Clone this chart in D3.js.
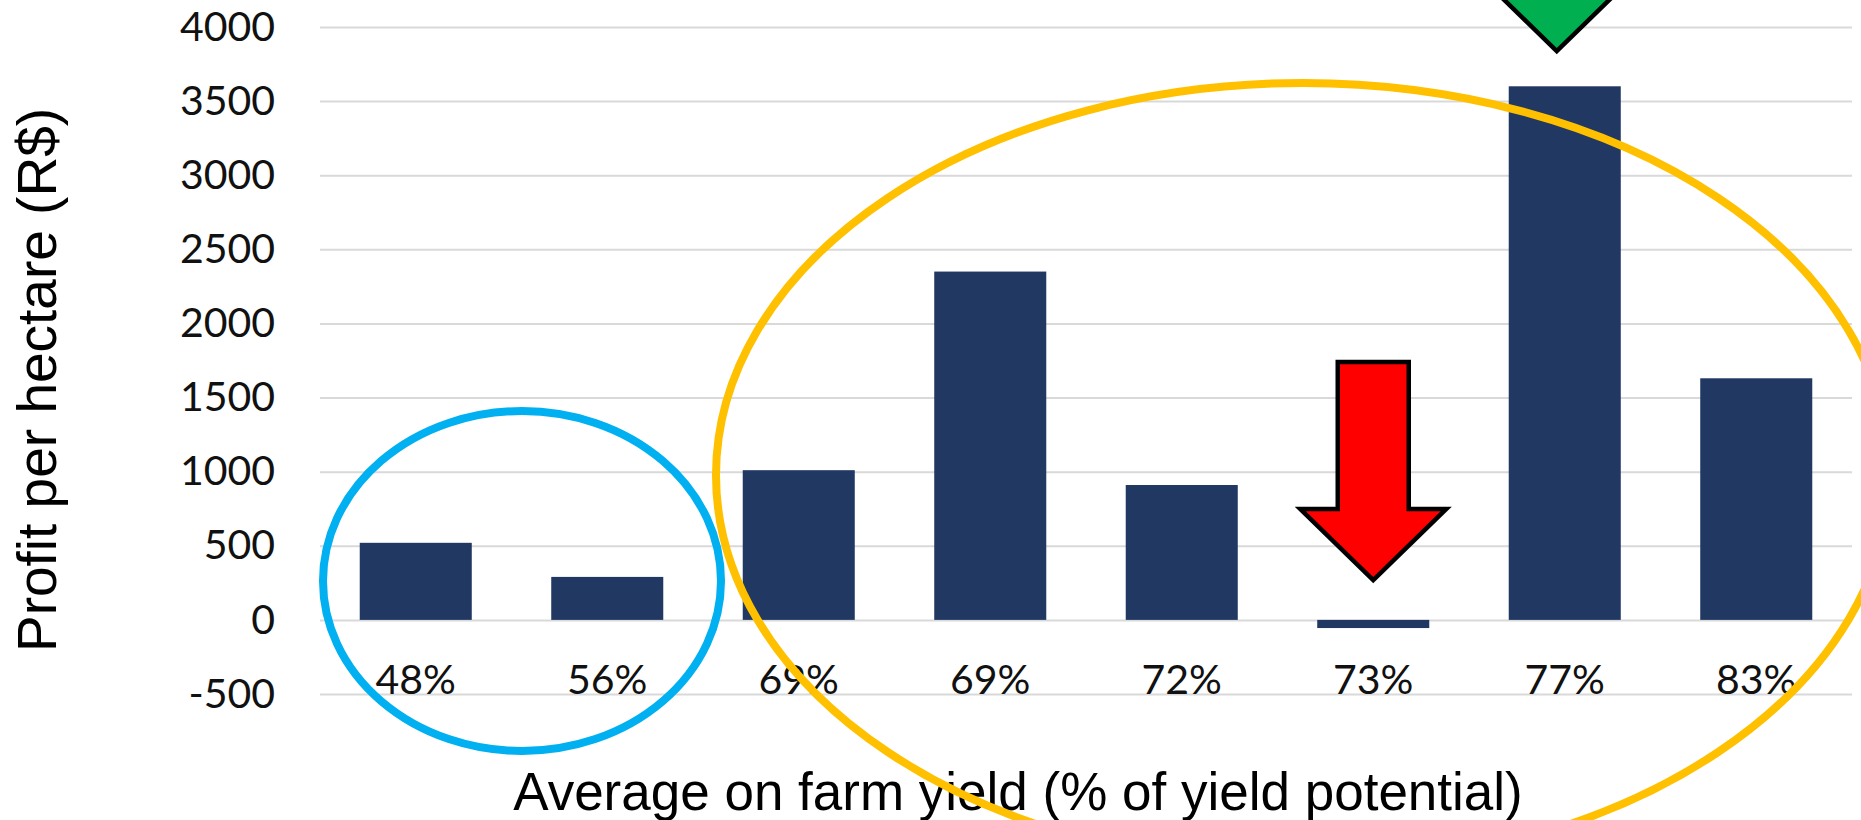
<!DOCTYPE html>
<html>
<head>
<meta charset="utf-8">
<script src="https://cdn.jsdelivr.net/npm/d3@7"></script>
<style>
  html, body { margin: 0; padding: 0; background: #ffffff; }
  svg { display: block; }
</style>
</head>
<body>
<svg id="chart" width="1861" height="820"></svg>
<script>
// Average on-farm yield class (share of yield potential) and profit per hectare
const categories = ["48%", "56%", "69%", "69%", "72%", "73%", "77%", "83%"];
const profits = [520, 290, 1010, 2350, 910, -55, 3600, 1630];
const yTicks = [-500, 0, 500, 1000, 1500, 2000, 2500, 3000, 3500, 4000];

const svg = d3.select("#chart");
const plot = { left: 320, right: 1852, top: 27, bottom: 694 };

const x = d3.scaleBand()
  .domain(d3.range(categories.length))
  .range([plot.left, plot.right])
  .paddingInner(0.415)
  .paddingOuter(0.2075);

const y = d3.scaleLinear()
  .domain([-500, 4000])
  .range([plot.bottom, plot.top]);

const tickFont = "Lato, 'Open Sans', sans-serif";
const titleFont = "'Liberation Sans', Arial, sans-serif";

// horizontal gridlines
const grid = svg.append("g")
  .attr("transform", `translate(${plot.left},0)`)
  .call(d3.axisRight(y).tickValues(yTicks).tickSize(plot.right - plot.left).tickFormat(""));
grid.select(".domain").remove();
grid.selectAll("line").attr("stroke", "#D9D9D9").attr("stroke-width", 2);

// value axis labels (plain integers, hyphen for negatives)
const yAxis = svg.append("g")
  .attr("transform", `translate(${plot.left},0)`)
  .call(d3.axisLeft(y).tickValues(yTicks).tickSize(0).tickPadding(45)
    .tickFormat(d => String(d)));
yAxis.select(".domain").remove();
yAxis.selectAll("text")
  .attr("font-family", tickFont)
  .attr("font-size", 41)
  .attr("fill", "#111");

// bars
svg.append("g")
  .selectAll("rect")
  .data(profits)
  .join("rect")
  .attr("x", (d, i) => x(i))
  .attr("width", x.bandwidth())
  .attr("y", d => y(Math.max(0, d)))
  .attr("height", d => Math.abs(y(d) - y(0)))
  .attr("fill", "#213862");

// category labels along the bottom gridline
const xAxis = svg.append("g")
  .attr("transform", `translate(0,${y(-500)})`)
  .call(d3.axisBottom(x).tickSize(0).tickFormat(i => categories[i]));
xAxis.select(".domain").remove();
xAxis.selectAll("text")
  .attr("y", 0)
  .attr("dy", 0)
  .attr("font-family", tickFont)
  .attr("font-size", 41)
  .attr("fill", "#111");

// axis titles
svg.append("text")
  .attr("x", 1018)
  .attr("y", 810)
  .attr("text-anchor", "middle")
  .attr("font-family", titleFont)
  .attr("font-size", 53)
  .attr("fill", "#000")
  .text("Average on farm yield (% of yield potential)");

svg.append("text")
  .attr("transform", "translate(56,380) rotate(-90)")
  .attr("text-anchor", "middle")
  .attr("font-family", titleFont)
  .attr("font-size", 55)
  .attr("fill", "#000")
  .text("Profit per hectare (R$)");

// group outlines
svg.append("ellipse")
  .attr("cx", 522).attr("cy", 581)
  .attr("rx", 199).attr("ry", 170)
  .attr("fill", "none")
  .attr("stroke", "#00B0F0")
  .attr("stroke-width", 8);

svg.append("ellipse")
  .attr("cx", 1303).attr("cy", 475)
  .attr("rx", 587).attr("ry", 392)
  .attr("fill", "none")
  .attr("stroke", "#FFC000")
  .attr("stroke-width", 8);

// block arrow pointing down: tip at (cx, tipY)
function downArrow(cx, tipY, shaftTop, fill) {
  const headH = 71, headHalf = 73, shaftHalf = 35.5;
  const baseY = tipY - headH;
  const pts = [
    [cx - shaftHalf, shaftTop],
    [cx + shaftHalf, shaftTop],
    [cx + shaftHalf, baseY],
    [cx + headHalf, baseY],
    [cx, tipY],
    [cx - headHalf, baseY],
    [cx - shaftHalf, baseY]
  ];
  svg.append("path")
    .attr("d", d3.line()(pts) + "Z")
    .attr("fill", fill)
    .attr("stroke", "#000")
    .attr("stroke-width", 4.5)
    .attr("stroke-linejoin", "miter");
}

// loss marker over the 73% class, best result marker over the 77% class
downArrow(x(5) + x.bandwidth() / 2, 580, 362, "#FF0000");
downArrow(x(6) + x.bandwidth() / 2 - 8, 51, -120, "#00B050");
</script>
</body>
</html>
